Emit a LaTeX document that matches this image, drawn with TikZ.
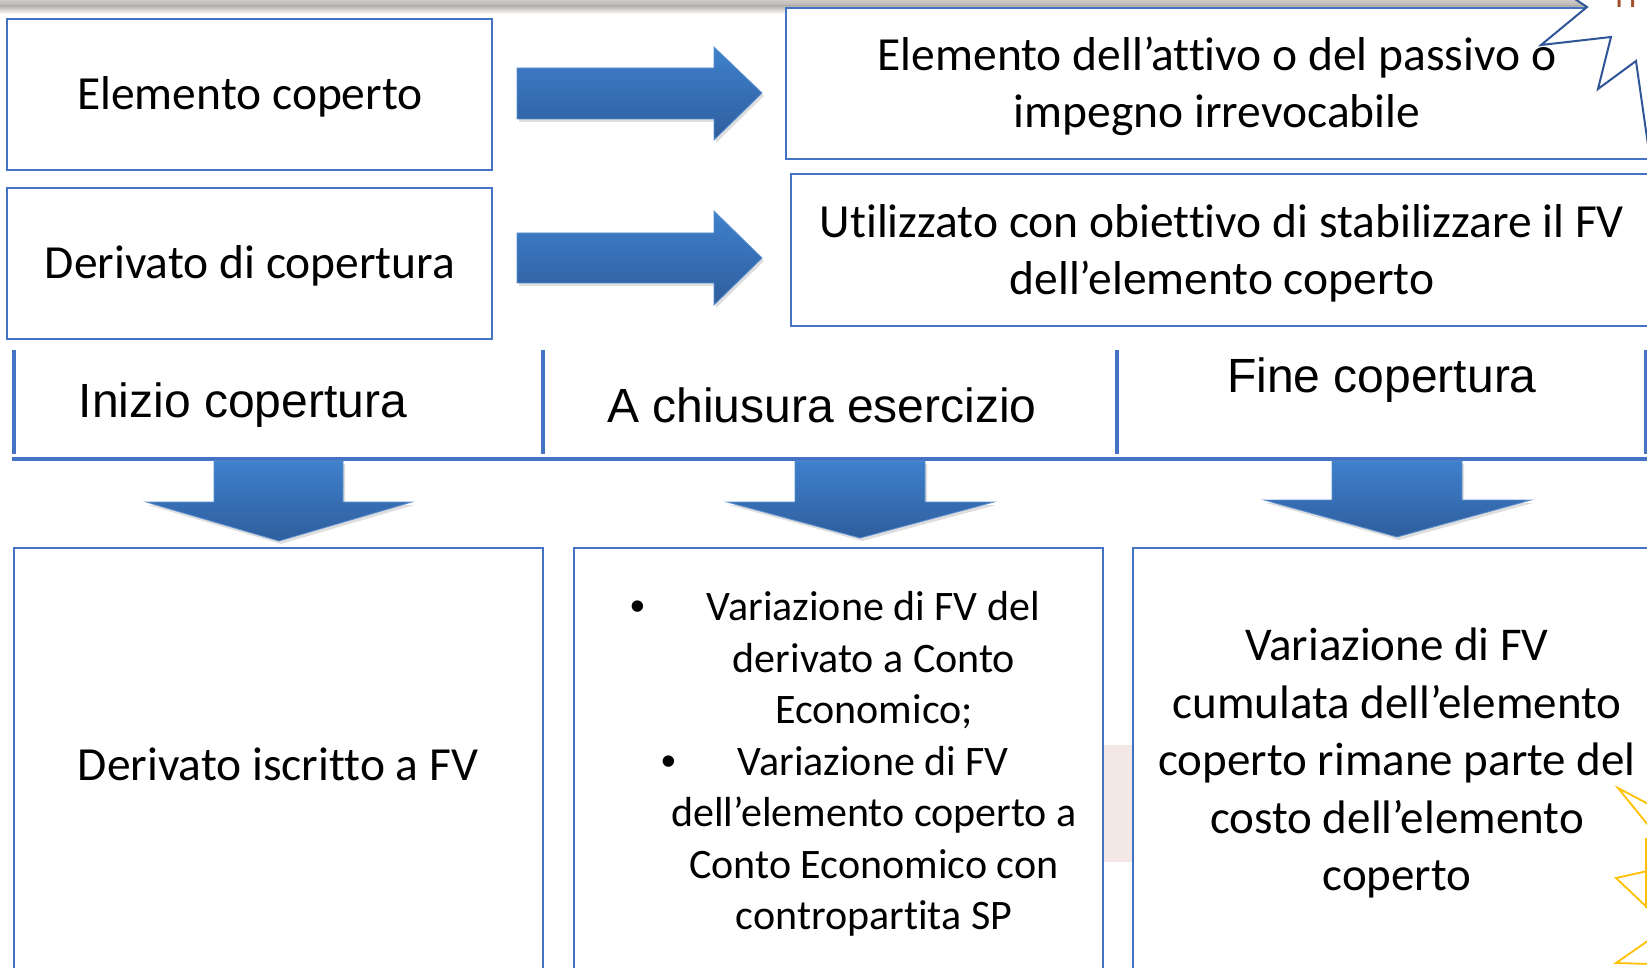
\documentclass[tikz,border=0pt]{standalone}
\usepackage{fontspec}
\setmainfont{Carlito}[Ligatures=NoCommon]
\newfontfamily\arialfont{Liberation Sans}
\definecolor{boxblue}{HTML}{4472C4}
\definecolor{arrtop}{HTML}{3F80CC}
\definecolor{arrbot}{HTML}{2E5E9D}
\definecolor{arredge}{HTML}{5B8FD0}
\definecolor{boltblue}{HTML}{2F5597}
\definecolor{starorange}{HTML}{FFC000}
\definecolor{pinkbg}{HTML}{F4E8E6}
\definecolor{brownt}{HTML}{A0502A}
\definecolor{barmid}{HTML}{B8B4B0}
\newcommand{\mybul}{{\arialfont\textbullet}}
\tikzset{
  box/.style={draw=boxblue, line width=2pt, fill=white},
  tline/.style={draw=boxblue, line width=4pt},
  blockarrow/.style={top color=arrtop, bottom color=arrbot, draw=arredge, line width=0.8pt, line join=miter},
  arrshadow/.style={fill=black, opacity=0.13},
  bigtxt/.style={font=\fontsize{47.5}{57}\selectfont, align=center, inner sep=0pt},
  midtxt/.style={font=\fontsize{42}{51.5}\selectfont, align=center, inner sep=0pt},
  gtxt/.style={font=\fontsize{47}{57.5}\selectfont, align=center, inner sep=0pt},
  tltxt/.style={font=\arialfont\fontsize{48}{56}\selectfont, inner sep=0pt},
  bolt/.style={draw=boltblue, line width=2pt, fill=white, line join=miter},
  star/.style={draw=starorange, line width=1.8pt, line join=miter},
}
\begin{document}
\begin{tikzpicture}[x=1pt, y=-1pt]
\useasboundingbox (0,0) rectangle (1647,968);
\clip (0,0) rectangle (1647,968);
\fill[white] (0,0) rectangle (1647,968);

% top gray bar
\shade[top color=barmid!70!white, bottom color=barmid] (0,0) rectangle (1600,6);
\shade[top color=barmid, bottom color=white] (0,6) rectangle (1600,14);

% top boxes
\draw[box] (7,19) rectangle (492,170);
\draw[box] (7,188) rectangle (492,339);
\draw[box] (786,8) rectangle (1665,159);
\draw[box] (791,174) rectangle (1665,326);

\node[bigtxt] (tA) at (250,97) {Elemento coperto};
\node[bigtxt] (tB) at (250,266) {Derivato di copertura};
\node[bigtxt] (tC) at (1217,86) {Elemento dell’attivo o del passivo o\\impegno irrevocabile};
\node[bigtxt] (tD) at (1222,253) {Utilizzato con obiettivo di stabilizzare il FV\\dell’elemento coperto};

% right block arrows
\fill[arrshadow] (519,71) -- (716,71) -- (716,50) -- (764,96) -- (716,143) -- (716,122) -- (519,122) -- cycle;
\draw[blockarrow] (517,68) -- (714,68) -- (714,47) -- (762,93) -- (714,140) -- (714,119) -- (517,119) -- cycle;
\fill[arrshadow] (519,236) -- (716,236) -- (716,214) -- (764,261) -- (716,308) -- (716,286) -- (519,286) -- cycle;
\draw[blockarrow] (517,233) -- (714,233) -- (714,211) -- (762,258) -- (714,305) -- (714,283) -- (517,283) -- cycle;

% lightning bolt callout
\draw[bolt] (1572,-3) -- (1587,7) -- (1541,45) -- (1611,37) -- (1598,89) -- (1636,61) -- (1649,152) -- (1665,152) -- (1665,-3) -- cycle;
\node[font=\fontsize{34}{40}\selectfont, text=brownt, anchor=base, inner sep=0pt] (hcut) at (1626,8) {H};

% timeline
\draw[tline] (14,350) -- (14,454);
\draw[tline] (543,350) -- (543,454);
\draw[tline] (1117,350) -- (1117,454);
\draw[tline] (1646,350) -- (1646,454);
\draw[tline] (12,459) -- (1660,459);

\node[tltxt] (l1) at (243,405) {Inizio copertura};
\node[tltxt] (l2) at (822,405) {A chiusura esercizio};
\node[tltxt] (l3) at (1382,380) {Fine copertura};

% faint pink rectangle
\fill[pinkbg] (1090,745) rectangle (1145,862);

% down block arrows
\fill[arrshadow] (216,464) -- (345,464) -- (345,505) -- (414,505) -- (281,544) -- (148,505) -- (216,505) -- cycle;
\draw[blockarrow] (214,461) -- (343,461) -- (343,502) -- (412,502) -- (279,541) -- (146,502) -- (214,502) -- cycle;
\fill[arrshadow] (797,464) -- (927,464) -- (927,505) -- (996,505) -- (862,541) -- (729,505) -- (797,505) -- cycle;
\draw[blockarrow] (795,461) -- (925,461) -- (925,502) -- (994,502) -- (860,538) -- (727,502) -- (795,502) -- cycle;
\fill[arrshadow] (1334,464) -- (1464,464) -- (1464,503) -- (1533,503) -- (1399,540) -- (1266,503) -- (1334,503) -- cycle;
\draw[blockarrow] (1332,461) -- (1462,461) -- (1462,500) -- (1531,500) -- (1397,537) -- (1264,500) -- (1332,500) -- cycle;

% bottom boxes
\draw[box] (14,548) rectangle (543,985);
\draw[box] (574,548) rectangle (1103,985);
\draw[box] (1133,548) rectangle (1665,985);

\node[bigtxt] (tE) at (278,764) {Derivato iscritto a FV};
\node[midtxt] (tF) at (874,764) {\mbox{\mybul\hspace{62pt}Variazione di FV del\hspace{78pt}}\\derivato a Conto\\Economico;\\\mbox{\mybul\hspace{62pt}Variazione di FV\hspace{78pt}}\\dell’elemento coperto a\\Conto Economico con\\contropartita SP};
\node[gtxt] (tG) at (1397,763) {Variazione di FV\\cumulata dell’elemento\\coperto rimane parte del\\costo dell’elemento\\coperto};

% yellow star fragment
\draw[star] (1652,806) -- (1618,788) -- (1652,830);
\draw[star] (1646,838) -- (1646,908);
\draw[star] (1652,870) -- (1616,878) -- (1652,912);
\draw[star] (1652,938) -- (1616,963) -- (1652,964);
\end{tikzpicture}
\end{document}
